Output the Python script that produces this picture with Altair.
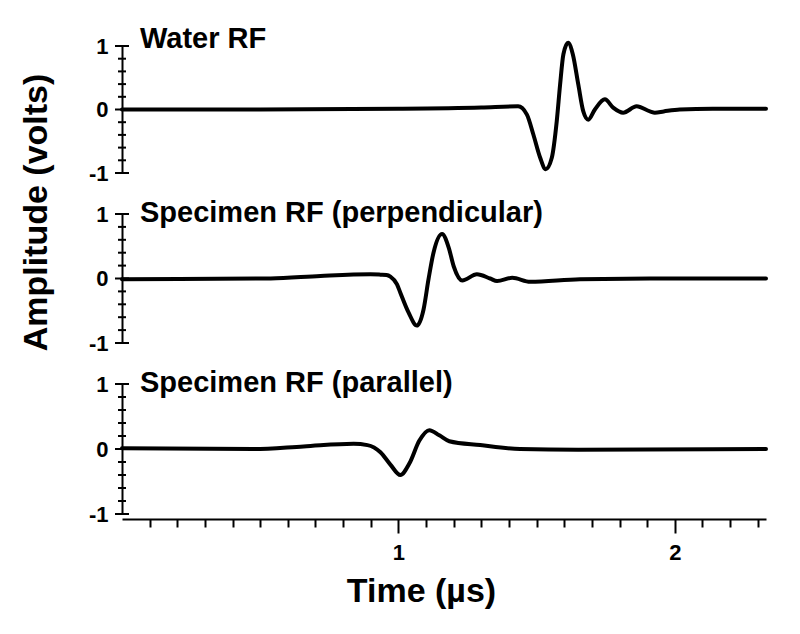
import altair as alt
import pandas as pd

FONT = "Liberation Sans"

panel_titles = ["Water RF", "Specimen RF (perpendicular)", "Specimen RF (parallel)"]

# Water RF (time in microseconds, amplitude in volts)
water_t = [0.0, 0.5, 1.0, 1.3, 1.433, 1.465, 1.488, 1.513, 1.533, 1.555, 1.573, 1.585,
           1.597, 1.614, 1.631, 1.651, 1.669, 1.687, 1.711, 1.747, 1.777, 1.813, 1.862,
           1.910, 1.928, 1.960, 2.018, 2.137, 2.33]
water_v = [0.0, 0.0, 0.01, 0.03, 0.05, -0.08, -0.39, -0.76, -0.94, -0.76, -0.18, 0.39,
           0.87, 1.05, 0.87, 0.39, -0.03, -0.16, 0.0, 0.16, 0.03, -0.05, 0.05,
           -0.03, -0.05, -0.03, 0.0, 0.01, 0.01]

# Specimen RF (perpendicular)
perp_t = [0.0, 0.538, 0.718, 0.899, 0.935, 0.957, 0.971, 0.995, 1.007, 1.037, 1.067,
          1.091, 1.109, 1.127, 1.158, 1.182, 1.200, 1.231, 1.284, 1.332, 1.357, 1.412,
          1.477, 1.657, 1.91, 2.33]
perp_v = [-0.01, 0.0, 0.04, 0.065, 0.06, 0.055, 0.03, -0.09, -0.22, -0.53, -0.73,
          -0.48, -0.01, 0.40, 0.69, 0.48, 0.19, -0.03, 0.065, 0.0, -0.04, 0.01,
          -0.05, -0.01, 0.0, 0.0]

# Specimen RF (parallel)
para_t = [0.0, 0.477, 0.657, 0.838, 0.888, 0.935, 0.971, 1.007, 1.040, 1.076, 1.112,
          1.148, 1.184, 1.296, 1.44, 1.65, 2.33]
para_v = [0.01, 0.0, 0.04, 0.08, 0.06, -0.05, -0.24, -0.40, -0.22, 0.13, 0.29,
          0.21, 0.12, 0.06, 0.0, -0.01, 0.0]

# axis ticks
ytick_major = [-1.0, 0.0, 1.0]
ytick_minor = [-0.8, -0.6, -0.4, -0.2, 0.2, 0.4, 0.6, 0.8]
ylabel_vals = [-1, 0, 1]
xtick_vals = [0.1, 0.2, 0.3, 0.4, 0.5, 0.6, 0.7, 0.8, 0.9, 1.0, 1.1, 1.2, 1.3,
              1.4, 1.5, 1.6, 1.7, 1.8, 1.9, 2.0, 2.1, 2.2, 2.3]
x_domain = [0, 2.33]

W = 644
heights = [127, 129, 130]

series = [(water_t, water_v), (perp_t, perp_v), (para_t, para_v)]
title_dy = [2, 8, 8]


def make_panel(i):
    t, v = series[i]
    df = pd.DataFrame({"t": t, "v": v})
    bottom = i == 2
    middle = i == 1
    xscale = alt.Scale(domain=x_domain, nice=False, zero=False)
    if bottom:
        xaxis = alt.Axis(
            values=xtick_vals, format="~g",
            labelExpr="datum.value == 1 || datum.value == 2 ? datum.label : ''",
            labelOverlap=False, offset=5,
            tickSize={"condition": {"test": "datum.value == 1 || datum.value == 2", "value": 14}, "value": 8},
            tickWidth=2, tickColor="black", domainColor="black", domainWidth=2,
            labelFont=FONT, labelFontSize=22, labelFontWeight="bold", labelColor="black",
            labelPadding=9, grid=False,
            title="Time (µs)", titleFont=FONT, titleFontSize=34, titleFontWeight="bold",
            titleColor="black", titleX=299, titleY=72, titleBaseline="middle",
            titleAlign="center",
        )
    else:
        xaxis = None
    yargs = dict(
        values=ylabel_vals, labelExpr="toString(datum.value)", ticks=False,
        domainColor="black", domainWidth=2,
        labelFont=FONT, labelFontSize=22, labelFontWeight="bold", labelColor="black",
        labelPadding=14, grid=False,
    )
    if middle:
        yaxis = alt.Axis(title="Amplitude (volts)", titleFont=FONT, titleFontSize=34,
                         titleFontWeight="bold", titleColor="black", titleX=-86,
                         titleY=-2, titleBaseline="middle", titleAlign="center",
                         titleAngle=270, **yargs)
    else:
        yaxis = alt.Axis(title=None, **yargs)

    line = alt.Chart(df).mark_line(
        color="black", strokeWidth=4, interpolate="monotone", strokeCap="round",
        strokeJoin="round",
    ).encode(
        x=alt.X("t:Q", scale=xscale, axis=xaxis),
        y=alt.Y("v:Q", scale=alt.Scale(domain=[-1, 1], nice=False), axis=yaxis),
    )
    major = alt.Chart(pd.DataFrame({"yt": ytick_major})).mark_rule(
        color="black", strokeWidth=2).encode(
        x=alt.value(-7), x2=alt.value(7), y=alt.Y("yt:Q"))
    minor = alt.Chart(pd.DataFrame({"yt": ytick_minor})).mark_rule(
        color="black", strokeWidth=2).encode(
        x=alt.value(-4), x2=alt.value(4), y=alt.Y("yt:Q"))
    ldf = pd.DataFrame({"label": [panel_titles[i]]})
    label = alt.Chart(ldf).mark_text(
        align="left", baseline="alphabetic", font=FONT, fontSize=29, fontWeight="bold",
        color="black",
    ).encode(x=alt.value(18), y=alt.value(title_dy[i]), text="label:N")
    return alt.layer(line, major, minor, label).properties(width=W, height=heights[i])


chart = alt.vconcat(make_panel(0), make_panel(1), make_panel(2), spacing=41, bounds="flush").properties(
    padding={"left": 10, "top": 17, "right": 5, "bottom": 5},
    background="white",
).configure_view(strokeWidth=0)

chart.save("out.html", embed_options={"renderer": "svg", "actions": False})
